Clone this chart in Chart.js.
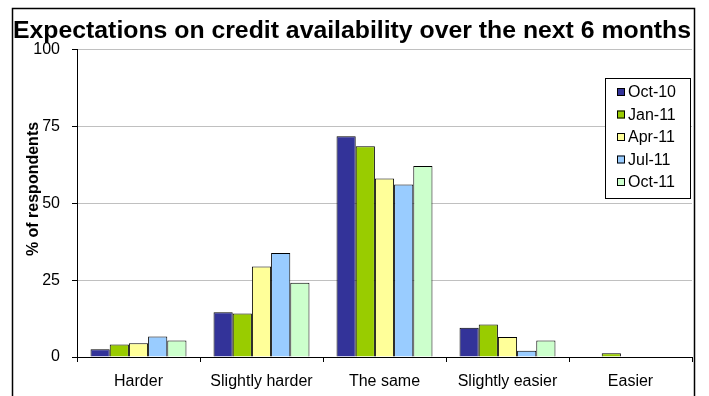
<!DOCTYPE html>
<html>
<head>
<meta charset="utf-8">
<script src="https://cdn.jsdelivr.net/npm/chart.js@4"></script>
<style>
  html, body { margin: 0; padding: 0; background: #fff; }
  #wrap { width: 709px; height: 396px; position: relative; }
</style>
</head>
<body>
<div id="wrap"><canvas id="credit-chart" width="709" height="396"></canvas></div>
<script>
// data
var categories = ['Harder', 'Slightly harder', 'The same', 'Slightly easier', 'Easier'];
var seriesNames = ['Oct-10', 'Jan-11', 'Apr-11', 'Jul-11', 'Oct-11'];
var oct10 = [2.5, 14.6, 71.9, 9.5, 0];
var jan11 = [4.1, 14.2, 68.6, 10.6, 1.2];
var apr11 = [4.5, 29.5, 58.1, 6.5, 0];
var jul11 = [6.7, 33.9, 56.2, 2.0, 0];
var oct11 = [5.4, 24.2, 62.2, 5.4, 0];
var yTicks = [0, 25, 50, 75, 100];

var colours = ['#333399', '#99CC00', '#FFFF99', '#99CCFF', '#CCFFCC'];
var values = [oct10, jan11, apr11, jul11, oct11];

var font = "'Liberation Sans', Arial, sans-serif";

// frame, y title and the legend box inside the plot (like excel)
var extras = {
    id: 'extras',
    afterDraw: function (chart) {
        var ctx = chart.ctx;
        ctx.save();
        // outer frame
        ctx.strokeStyle = '#000';
        ctx.lineWidth = 1.5;
        ctx.strokeRect(12.5, 8.5, 682, 400);

        // y axis title
        ctx.translate(34, 189);
        ctx.rotate(-Math.PI / 2);
        ctx.fillStyle = '#000';
        ctx.font = 'bold 16px ' + font;
        ctx.textAlign = 'center';
        ctx.textBaseline = 'middle';
        ctx.fillText('% of respondents', 0, 0);
        ctx.setTransform(1, 0, 0, 1, 0, 0);

        // legend
        ctx.fillStyle = '#fff';
        ctx.fillRect(605, 78, 85, 120);
        ctx.lineWidth = 1;
        ctx.strokeStyle = '#000';
        ctx.strokeRect(605.5, 78.5, 85, 120);
        ctx.font = '16px ' + font;
        ctx.textAlign = 'left';
        chart.data.datasets.forEach(function (ds, i) {
            var y = 92 + i * 22.5;
            ctx.fillStyle = ds.backgroundColor;
            ctx.fillRect(617, y - 4, 8, 8);
            ctx.strokeStyle = '#000';
            ctx.strokeRect(617.5, y - 3.5, 7, 7);
            ctx.fillStyle = '#000';
            ctx.fillText(ds.label, 628, y + 1);
        });
        ctx.restore();
    }
};

new Chart(document.getElementById('credit-chart'), {
    type: 'bar',
    data: {
        labels: categories,
        datasets: seriesNames.map(function (name, i) {
            return {
                label: name,
                data: values[i],
                backgroundColor: colours[i],
                borderColor: '#000',
                borderWidth: 1,
                borderSkipped: 'bottom',
                categoryPercentage: 0.78,
                barPercentage: 1.0
            };
        })
    },
    options: {
        responsive: false,
        animation: false,
        layout: { padding: { left: 12, right: 17, top: 0, bottom: 0 } },
        plugins: {
            legend: { display: false },
            tooltip: { enabled: false },
            title: {
                display: true,
                text: 'Expectations on credit availability over the next 6 months',
                color: '#000',
                font: { family: font, size: 24.8, weight: 'bold', lineHeight: 1.2 },
                padding: { top: 16, bottom: 4.2 }
            }
        },
        scales: {
            x: {
                grid: { drawOnChartArea: false, tickLength: 5, tickColor: '#000', offset: true },
                border: { color: '#000', width: 1 },
                ticks: { color: '#000', font: { family: font, size: 16 }, padding: 10, maxRotation: 0 },
                afterFit: function (s) { s.height = 39; }
            },
            y: {
                min: 0,
                max: 100,
                afterBuildTicks: function (s) { s.ticks = yTicks.map(function (v) { return { value: v }; }); },
                grid: { color: '#c0c0c0', tickColor: '#000', tickLength: 5 },
                border: { color: '#000', width: 1 },
                ticks: { color: '#000', font: { family: font, size: 16 }, padding: 12 },
                afterFit: function (s) { s.width = 65; }
            }
        }
    },
    plugins: [extras]
});
</script>
</body>
</html>
